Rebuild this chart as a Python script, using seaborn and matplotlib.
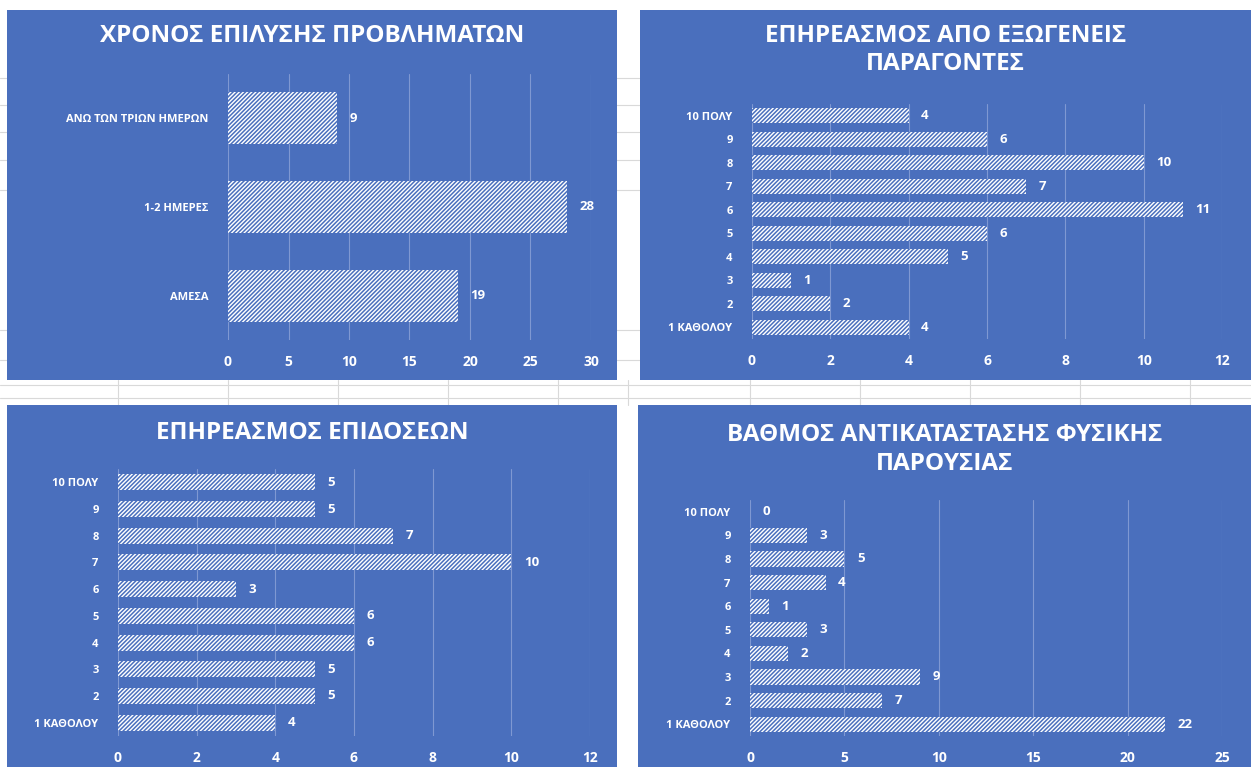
import matplotlib
matplotlib.use("Agg")
import matplotlib.pyplot as plt
from matplotlib.patches import Rectangle
from matplotlib.lines import Line2D
import seaborn as sns

sns.set_style("white")
plt.rcParams["font.family"] = ["Open Sans", "DejaVu Sans"]
plt.rcParams["hatch.linewidth"] = 1.1

# data
time_labels = ["ΑΝΩ ΤΩΝ ΤΡΙΩΝ ΗΜΕΡΩΝ", "1-2 ΗΜΕΡΕΣ", "ΑΜΕΣΑ"]
time_values = [9, 28, 19]

scale_labels = ["10 ΠΟΛΥ", "9", "8", "7", "6", "5", "4", "3", "2", "1 ΚΑΘΟΛΟΥ"]
external_values = [4, 6, 10, 7, 11, 6, 5, 1, 2, 4]
performance_values = [5, 5, 7, 10, 3, 6, 6, 5, 5, 4]
presence_values = [0, 3, 5, 4, 1, 3, 2, 9, 7, 22]

titles = [
    "ΧΡΟΝΟΣ ΕΠΙΛΥΣΗΣ ΠΡΟΒΛΗΜΑΤΩΝ",
    "ΕΠΗΡΕΑΣΜΟΣ ΑΠΟ ΕΞΩΓΕΝΕΙΣ\nΠΑΡΑΓΟΝΤΕΣ",
    "ΕΠΗΡΕΑΣΜΟΣ ΕΠΙΔΟΣΕΩΝ",
    "ΒΑΘΜΟΣ ΑΝΤΙΚΑΤΑΣΤΑΣΗΣ ΦΥΣΙΚΗΣ\nΠΑΡΟΥΣΙΑΣ",
]

BLUE = "#4a6fbd"
GRID = "#7f98d2"
W, H = 1251, 767

fig = plt.figure(figsize=(W / 100, H / 100), dpi=100)
fig.patch.set_facecolor("white")

# faint spreadsheet grid behind the charts
for yy in [78, 105, 132, 160, 190, 330, 360, 385, 398]:
    fig.add_artist(Line2D([0, 1], [1 - yy / H, 1 - yy / H], color="#d9d9d9", lw=0.8, zorder=-3))
for xx in [118, 228, 338, 448, 558, 628, 750, 860, 970, 1080, 1190]:
    fig.add_artist(Line2D([xx / W, xx / W], [1 - 405 / H, 1 - 380 / H], color="#d9d9d9", lw=0.8, zorder=-3))


def px_axes(x0, x1, y0, y1):
    return fig.add_axes([x0 / W, 1 - y1 / H, (x1 - x0) / W, (y1 - y0) / H])


def panel(bg, ax_box, title, title_y, labels, values, xmax, step, bar_h):
    bx0, bx1, by0, by1 = bg
    fig.add_artist(Rectangle((bx0 / W, 1 - by1 / H), (bx1 - bx0) / W, (by1 - by0) / H,
                             transform=fig.transFigure, facecolor=BLUE, edgecolor="none", zorder=-2))
    fig.text(((bx0 + bx1) / 2) / W, 1 - title_y / H, title, ha="center", va="top",
             color="white", fontsize=17.5, fontweight="bold", linespacing=1.25, zorder=3)
    ax = px_axes(*ax_box)
    ax.set_facecolor(BLUE)
    sns.barplot(x=values, y=labels, ax=ax, orient="h", color="white", width=bar_h,
                edgecolor=BLUE, linewidth=0, saturation=1)
    for p in ax.patches:
        p.set_hatch("////////")
    ax.bar_label(ax.containers[0], padding=9, color="white", fontsize=9.5, fontweight="bold")
    ax.set_xlim(0, xmax)
    ax.set_xticks(range(0, xmax + 1, step))
    ax.xaxis.grid(True, color=GRID, lw=0.8)
    ax.set_axisbelow(True)
    for s in ax.spines.values():
        s.set_visible(False)
    ax.tick_params(axis="x", colors="white", labelsize=10, length=0, pad=11)
    ax.tick_params(axis="y", colors="white", labelsize=8, length=0, pad=14)
    for t in ax.get_xticklabels() + ax.get_yticklabels():
        t.set_fontweight("bold")
    ax.set_xlabel("")
    ax.set_ylabel("")
    return ax


panel((7, 617, 10, 380), (228, 591, 74, 340), titles[0], 24,
      time_labels, time_values, 30, 5, 0.59)
panel((640, 1251, 10, 380), (752, 1222, 104, 339), titles[1], 24,
      scale_labels, external_values, 12, 2, 0.64)
panel((7, 617, 405, 767), (118, 590, 469, 736), titles[2], 421,
      scale_labels, performance_values, 12, 2, 0.6)
panel((638, 1251, 405, 767), (750, 1222, 500, 736), titles[3], 423,
      scale_labels, presence_values, 25, 5, 0.64)

fig.savefig("out.png", dpi=100, facecolor=fig.get_facecolor())
